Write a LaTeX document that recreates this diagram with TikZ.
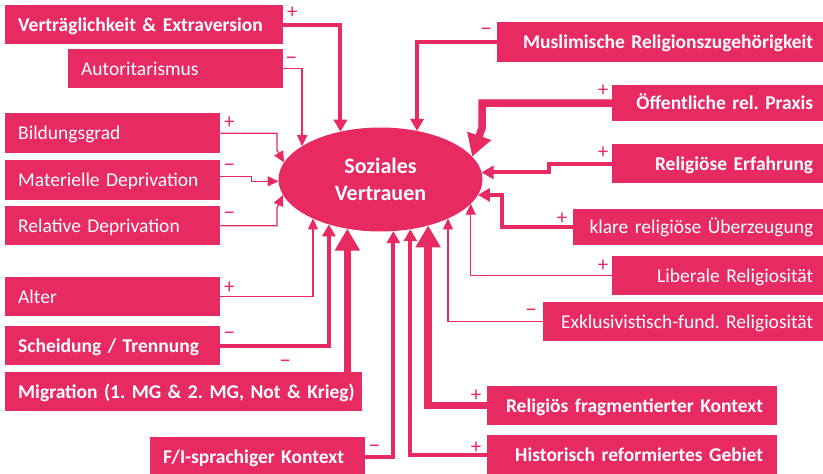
\documentclass[tikz,border=0pt]{standalone}
\usepackage{fontspec}
\setmainfont{Carlito}
\usetikzlibrary{arrows.meta,shapes.geometric}
\definecolor{vpink}{RGB}{232,42,98}

\begin{document}
\frenchspacing
\begin{tikzpicture}[
	x=1pt, y=-1pt,
	line join=miter,
	box/.style={fill=vpink, text=white, anchor=north west, inner xsep=13pt, inner ysep=0pt,
		text height=15pt, text depth=2pt, font=\fontsize{19.5}{22}\selectfont,
		execute at begin node=\leavevmode\hbox\bgroup, execute at end node=\egroup},
	heavy/.style={font=\fontsize{19.5}{22}\selectfont\bfseries},
	lbox/.style={box, align=left},
	rbox/.style={box, align=right, inner xsep=10pt},
	signlab/.style={text=vpink, inner sep=0pt, font=\fontsize{21}{21}\selectfont},
	minuslab/.style={signlab, font=\fontsize{24}{24}\selectfont},
	weakeffect/.style={draw=vpink, line width=1.3pt, -{Triangle[length=11pt,width=10pt]}},
	effect/.style={draw=vpink, line width=4pt, -{Triangle[length=12pt,width=13pt]}},
	strongeffect/.style={draw=vpink, line width=7.5pt, -{Triangle[length=22pt,width=24pt]}}
	]
	
	\useasboundingbox (0,0) rectangle (823,474);
	
	% Soziales Vertrauen
	\node[ellipse, fill=vpink, text=white, minimum width=204pt, minimum height=104pt,
		inner sep=0pt, outer sep=0pt, align=center,
		font=\fontsize{22}{27}\selectfont\bfseries] (vertrauen) at (380.5,179.5) {Soziales\\Vertrauen};
	
	% Left-hand factors
	\node[lbox, heavy, text width=252pt, minimum height=39pt] (vertr) at (5,5) {Verträglichkeit \& Extraversion};
	\node[lbox, text width=189pt, minimum height=39pt] (autor) at (68,49) {Autoritarismus};
	\node[lbox, text width=189pt, minimum height=40pt] (bildung) at (5,113) {Bildungsgrad};
	\node[lbox, text width=189pt, minimum height=40pt] (matdep) at (5,160) {Materielle Deprivation};
	\node[lbox, text width=189pt, minimum height=39pt] (reldep) at (5,206) {Relative Deprivation};
	\node[lbox, text width=189pt, minimum height=39pt] (alter) at (5,277) {Alter};
	\node[lbox, heavy, text width=189pt, minimum height=39pt] (scheid) at (5,326) {Scheidung / Trennung};
	\node[lbox, heavy, text width=331pt, minimum height=39pt] (migr) at (5,372) {Migration (1. MG \& 2. MG, Not \& Krieg)};
	\node[lbox, heavy, text width=189pt, minimum height=39pt] (sprache) at (150,437) {F/I-sprachiger Kontext};
	
	% Right-hand factors
	\node[rbox, heavy, text width=306pt, minimum height=40pt] (muslim) at (497,22) {Muslimische Religionszugehörigkeit};
	\node[rbox, heavy, text width=191pt, minimum height=36pt] (praxis) at (612,85) {Öffentliche rel. Praxis};
	\node[rbox, heavy, text width=191pt, minimum height=39pt] (erfahr) at (612,144) {Religiöse Erfahrung};
	\node[rbox, text width=230pt, minimum height=36pt] (ueberz) at (573,209) {klare religiöse Überzeugung};
	\node[rbox, text width=191pt, minimum height=39pt] (liberal) at (612,256) {Liberale Religiosität};
	\node[rbox, text width=260pt, minimum height=39pt] (exklus) at (543,302) {Exklusivistisch-fund. Religiosität};
	\node[rbox, heavy, inner xsep=14pt, text width=262pt, minimum height=39pt] (fragm) at (487,386) {Religiös fragmentierter Kontext};
	\node[rbox, heavy, inner xsep=14pt, text width=262pt, minimum height=39pt] (reform) at (487,435) {Historisch reformiertes Gebiet};
	
	% Effects from the left
	\draw[effect] (vertr.east) node[signlab, xshift=9pt, yshift=12pt] {+} -| (vertrauen.130);
	\draw[weakeffect] (autor.east) node[minuslab, xshift=8pt, yshift=8pt] {--} -| (vertrauen.157);
	\draw[weakeffect] (bildung.east) node[signlab, xshift=9pt, yshift=10pt] {+} -| (277,150) -- (vertrauen.170);
	\draw[weakeffect] ([yshift=4pt]matdep.east) node[minuslab, xshift=9pt, yshift=8pt] {--} -- ++(31,0) |- (vertrauen.181);
	\draw[weakeffect] (reldep.east) node[minuslab, xshift=9pt, yshift=10pt] {--} -| (277,208) -- (vertrauen.189);
	\draw[weakeffect] (alter.east) node[signlab, xshift=9pt, yshift=9pt] {+} -| (vertrauen.210);
	\draw[effect] (scheid.east) node[minuslab, xshift=9pt, yshift=10pt] {--} -| (vertrauen.221);
	\draw[strongeffect] (vertrauen.236 |- migr.north) node[minuslab, xshift=-62pt, yshift=8pt] {--} -- (vertrauen.236);
	\draw[effect] (sprache.east) node[minuslab, xshift=9pt, yshift=8pt] {--} -| (vertrauen.284);
	
	% Effects from the right
	\draw[effect] (muslim.west) node[minuslab, xshift=-11pt, yshift=10pt] {--} -| (vertrauen.53);
	\draw[strongeffect] (praxis.west) node[signlab, xshift=-9pt, yshift=12pt] {+} -| (482,128) -- (vertrauen.14);
	\draw[effect] (erfahr.west) node[signlab, xshift=-9pt, yshift=11pt] {+} -| ([xshift=67pt]vertrauen.4) -- (vertrauen.4);
	\draw[effect] (ueberz.west) node[signlab, xshift=-11pt, yshift=8pt] {+} -| ([xshift=24pt]vertrauen.351) -- (vertrauen.351);
	\draw[weakeffect] (liberal.west) node[signlab, xshift=-9pt, yshift=10pt] {+} -| (vertrauen.345);
	\draw[weakeffect] (exklus.west) node[minuslab, xshift=-12pt, yshift=9pt] {--} -| (vertrauen.330);
	\draw[strongeffect] (fragm.west) node[signlab, xshift=-11pt, yshift=10pt] {+} -| (vertrauen.316);
	\draw[effect] (reform.west) node[signlab, xshift=-11pt, yshift=7pt] {+} -| (vertrauen.301);
	
\end{tikzpicture}
\end{document}
